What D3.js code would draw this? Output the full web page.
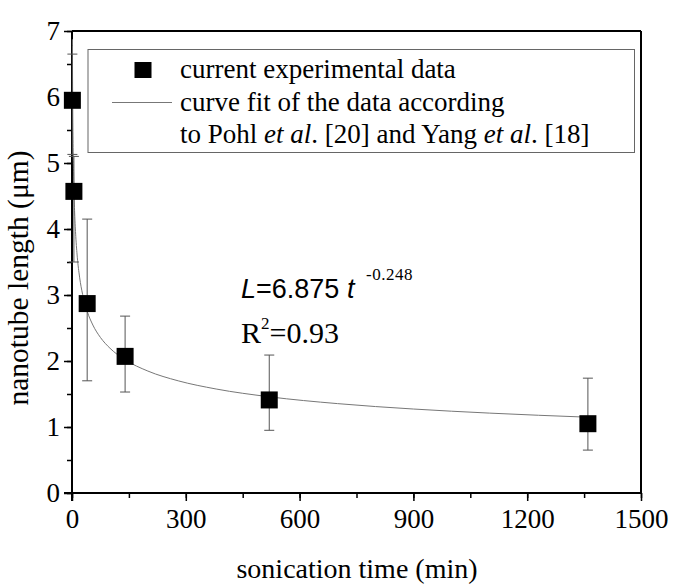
<!DOCTYPE html>
<html><head><meta charset="utf-8">
<script src="https://cdn.jsdelivr.net/npm/d3@7"></script>
<style>body{margin:0;background:#fff}</style>
</head><body>
<script>
const times = [1, 5, 40, 140, 520, 1360];
const lengths = [5.95, 4.57, 2.87, 2.07, 1.41, 1.05];
const errLow = [5.13, 3.50, 1.70, 1.53, 0.95, 0.65];
const errHigh = [6.65, 5.10, 4.15, 2.68, 2.09, 1.74];
const xTicks = [0, 300, 600, 900, 1200, 1500];
const yTicks = [0, 1, 2, 3, 4, 5, 6, 7];
const fitA = 6.875, fitB = -0.248;
const fitT = [1, 1.5, 2, 3, 4, 5, 7, 10, 14, 20, 28, 40, 55, 75, 100, 140, 200, 280, 380, 520, 700, 900, 1100, 1360];

const W = 685, H = 585;
const svg = d3.select("body").append("svg").attr("width", W).attr("height", H);
const x = d3.scaleLinear().domain([0, 1500]).range([72, 641]);
const y = d3.scaleLinear().domain([0, 7]).range([493, 31]);
const serif = "'Liberation Serif','Times New Roman',serif";

// frame top/right
svg.append("line").attr("x1", x(0)).attr("x2", x(1500)).attr("y1", y(7)).attr("y2", y(7)).attr("stroke", "#000").attr("stroke-width", 2);
svg.append("line").attr("x1", x(1500)).attr("x2", x(1500)).attr("y1", y(7)).attr("y2", y(0)).attr("stroke", "#000").attr("stroke-width", 2);

// x axis
const gx = svg.append("g").attr("transform", `translate(0,${y(0)})`);
gx.call(d3.axisBottom(x).tickValues(d3.range(0, 1501, 150)).tickSize(5).tickFormat(""));
gx.call(g => g.append("g").call(d3.axisBottom(x).tickValues(xTicks).tickSize(8).tickFormat(d3.format("d")).tickPadding(3)));
gx.selectAll("path.domain").attr("stroke-width", 2).attr("d", `M${x(0)-8},0H${x(1500)}`);
gx.selectAll(".tick line").attr("stroke-width", 1.5);
gx.selectAll("text").attr("font-family", serif).attr("font-size", 27).attr("fill", "#000").attr("dy", "0.9em");

// y axis
const gy = svg.append("g").attr("transform", `translate(${x(0)},0)`);
gy.call(d3.axisLeft(y).tickValues(d3.range(0, 7.01, 0.5)).tickSize(5).tickFormat(""));
gy.call(g => g.append("g").call(d3.axisLeft(y).tickValues(yTicks).tickSize(8).tickFormat(d3.format("d")).tickPadding(4)));
gy.selectAll("path.domain").attr("stroke-width", 2).attr("d", `M0,${y(0)+8}V${y(7)}`);
gy.selectAll(".tick line").attr("stroke-width", 1.5);
gy.selectAll("text").attr("font-family", serif).attr("font-size", 27).attr("fill", "#000");

// fit curve
const line = d3.line().x(d => x(d)).y(d => y(fitA * Math.pow(d, fitB))).curve(d3.curveMonotoneX);
svg.append("path").datum(fitT).attr("d", line).attr("fill", "none").attr("stroke", "#777").attr("stroke-width", 1);

// error bars
const eb = svg.append("g").attr("stroke", "#555").attr("stroke-width", 1);
times.forEach((t, i) => {
  eb.append("line").attr("x1", x(t)).attr("x2", x(t)).attr("y1", y(errLow[i])).attr("y2", y(errHigh[i]));
  [errLow[i], errHigh[i]].forEach(v => eb.append("line").attr("x1", x(t) - 5).attr("x2", x(t) + 5).attr("y1", y(v)).attr("y2", y(v)));
});

// markers
const s = 17;
svg.append("g").selectAll("rect").data(times).join("rect")
  .attr("x", d => x(d) - s / 2).attr("y", (d, i) => y(lengths[i]) - s / 2)
  .attr("width", s).attr("height", s).attr("fill", "#000");

// legend
svg.append("rect").attr("x", 88).attr("y", 49.5).attr("width", 546.5).attr("height", 103).attr("fill", "#fff").attr("stroke", "#666").attr("stroke-width", 1);
svg.append("rect").attr("x", 134.5).attr("y", 62).attr("width", 17).attr("height", 16).attr("fill", "#000");
svg.append("line").attr("x1", 112).attr("x2", 172).attr("y1", 102.5).attr("y2", 102.5).attr("stroke", "#777").attr("stroke-width", 1);
const lt = svg.append("g").attr("font-family", serif).attr("font-size", 27).attr("fill", "#000");
lt.append("text").attr("x", 180).attr("y", 78).text("current experimental data");
lt.append("text").attr("x", 180).attr("y", 111).text("curve fit of the data according");
const l3 = lt.append("text").attr("x", 180).attr("y", 143);
l3.append("tspan").text("to Pohl ");
l3.append("tspan").attr("font-style", "italic").text("et al");
l3.append("tspan").text(". [20] and Yang ");
l3.append("tspan").attr("font-style", "italic").text("et al");
l3.append("tspan").text(". [18]");

// equation
const eq = svg.append("text").attr("x", 241).attr("y", 298).attr("font-size", 27).attr("fill", "#000").attr("font-family", "'Liberation Sans',Arial,sans-serif");
eq.append("tspan").attr("font-style", "italic").text("L");
eq.append("tspan").text("=6.875 ");
eq.append("tspan").attr("font-style", "italic").text("t");
svg.append("text").attr("x", 366).attr("y", 280).attr("font-size", 17).attr("letter-spacing", 0.5).attr("font-family", serif).attr("fill", "#000").text("-0.248");
const r2 = svg.append("text").attr("x", 241).attr("y", 343).attr("font-size", 30).attr("fill", "#000").attr("font-family", serif);
r2.append("tspan").text("R");
r2.append("tspan").attr("font-size", 17).attr("dy", -14).text("2");
r2.append("tspan").attr("dy", 14).text("=0.93");

// axis titles
svg.append("text").attr("x", 357).attr("y", 578).attr("text-anchor", "middle").attr("font-family", serif).attr("font-size", 28).attr("fill", "#000").text("sonication time (min)");
svg.append("text").attr("transform", "translate(28,278) rotate(-90)").attr("text-anchor", "middle").attr("font-family", serif).attr("font-size", 29.5).attr("fill", "#000").text("nanotube length (μm)");
</script>
</body></html>
